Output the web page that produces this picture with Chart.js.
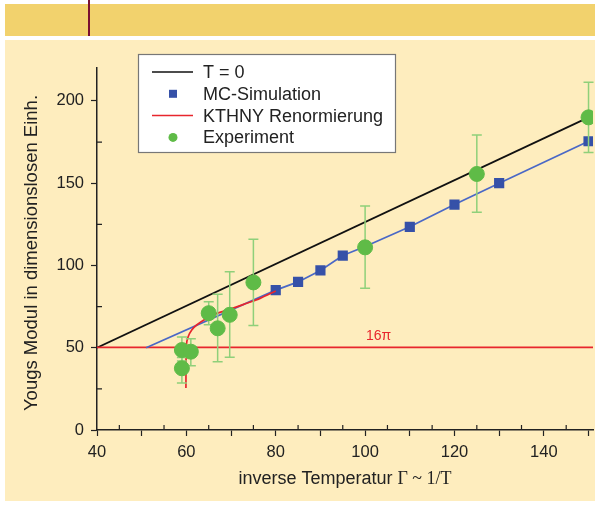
<!DOCTYPE html>
<html lang="de">
<head>
    <meta charset="UTF-8">
    <title>Youngs Modul</title>
    <script src="https://cdn.jsdelivr.net/npm/chart.js@4.4.1/dist/chart.umd.min.js"></script>
    <style type="text/css">
        html, body {
            margin: 0; padding: 0;
            background: #ffffff;
        }
        #band {
            position: absolute; left: 5px; top: 4px; width: 590px; height: 32px;
            background: #f2d26d;
        }
        #mark {
            position: absolute; left: 88px; top: 0; width: 2px; height: 36px;
            background: #7a1031;
        }
        #frame {
            position: absolute; left: 5px; top: 40px; width: 590px; height: 461px;
            background: #feedbe;
        }
        #chart {
            position: absolute; left: 0; top: 0;
        }
    </style>
</head>
<body>
    <div id="band"></div>
    <div id="mark"></div>
    <div id="frame"></div>
    <canvas id="chart" width="595" height="505"></canvas>

    <script>
        // T = 0 Gerade
        const t0X = [40, 150];
        const t0Y = [50, 190];

        // MC-Simulation (erster Punkt ist nur der Anfang der Linie)
        const mcX = [51, 80, 85, 90, 95, 100, 110, 120, 130, 150];
        const mcY = [50, 85, 90, 97, 106, 111.5, 123.5, 137, 150, 175.5];

        // KTHNY Renormierung
        const kthnyX = [59.9, 60, 60.4, 61.2, 62.3, 64.2, 66.8, 69.8, 73.5, 76.5, 80];
        const kthnyY = [25.5, 51.7, 56.7, 60.8, 63.8, 67.3, 70.9, 73.4, 77, 80, 84.5];

        // 16 pi Linie
        const piX = [40, 151];
        const piY = [16 * Math.PI, 16 * Math.PI];
        const piLabel = { x: 103, y: 57, text: '16\u03c0' };

        // Experiment mit Fehlerbalken
        const expX =    [59,   59,   61,   65,   67,   69.7, 75,   100,  125,   150];
        const expY =    [48.6, 37.5, 47.6, 71,   61.8, 70,   89.7, 111,  155.6, 190];
        const expLow =  [42,   28.5, 39,   64,   41.5, 44.2, 63.5, 86.2, 132.3, 168.6];
        const expHigh = [56.5, 44,   55.5, 78,   82.5, 96.2, 116,  136.2, 179.3, 211.3];

        const xTicksLabeled = 20;
        const yTicksLabeled = 50;

        function points(xs, ys) {
            return xs.map((x, i) => ({ x: x, y: ys[i] }));
        }

        const FONT = "'Liberation Sans', Arial, sans-serif";
        const SERIF = "'Liberation Serif', 'Times New Roman', serif";

        // Fehlerbalken unter den Kreisen zeichnen
        const errorBars = {
            id: 'errorBars',
            beforeDatasetDraw(chart, args) {
                if (args.index !== 4) return;
                const ctx = chart.ctx;
                const xs = chart.scales.x, ys = chart.scales.y;
                ctx.save();
                ctx.strokeStyle = '#8fd07a';
                ctx.lineWidth = 1.5;
                for (let i = 0; i < expX.length; i++) {
                    const px = xs.getPixelForValue(expX[i]);
                    const lo = ys.getPixelForValue(expLow[i]);
                    const hi = ys.getPixelForValue(expHigh[i]);
                    ctx.beginPath();
                    ctx.moveTo(px, lo); ctx.lineTo(px, hi);
                    ctx.moveTo(px - 5, lo); ctx.lineTo(px + 5, lo);
                    ctx.moveTo(px - 5, hi); ctx.lineTo(px + 5, hi);
                    ctx.stroke();
                }
                ctx.restore();
            }
        };

        // Innere Nebenstriche, Achsentitel, 16pi, Legende
        const extras = {
            id: 'extras',
            afterDraw(chart) {
                const ctx = chart.ctx;
                const xs = chart.scales.x, ys = chart.scales.y;
                const area = chart.chartArea;
                ctx.save();

                // Nebenstriche nach innen
                ctx.strokeStyle = '#222';
                ctx.lineWidth = 1.2;
                ctx.beginPath();
                for (let v = 45; v <= 150; v += 10) {
                    const px = xs.getPixelForValue(v);
                    ctx.moveTo(px, area.bottom); ctx.lineTo(px, area.bottom - 5);
                }
                for (let v = 25; v <= 200; v += 50) {
                    const py = ys.getPixelForValue(v);
                    ctx.moveTo(area.left, py); ctx.lineTo(area.left + 5, py);
                }
                ctx.stroke();

                // 16 pi Beschriftung
                ctx.fillStyle = '#e8262d';
                ctx.font = '14px ' + FONT;
                ctx.textAlign = 'center';
                ctx.textBaseline = 'middle';
                ctx.fillText(piLabel.text, xs.getPixelForValue(piLabel.x), ys.getPixelForValue(piLabel.y));

                // y-Titel
                ctx.fillStyle = '#222';
                ctx.font = '18.5px ' + FONT;
                ctx.translate(32, 253);
                ctx.rotate(-Math.PI / 2);
                ctx.fillText('Yougs Modul in dimensionslosen Einh.', 0, 0);
                ctx.setTransform(1, 0, 0, 1, 0, 0);

                // x-Titel mit Serifen-Teil
                const part1 = 'inverse Temperatur ';
                const part2 = '\u0393 ~ 1/T';
                ctx.font = '18px ' + FONT;
                const w1 = ctx.measureText(part1).width;
                ctx.font = '18px ' + SERIF;
                const w2 = ctx.measureText(part2).width;
                let sx = 345 - (w1 + w2) / 2;
                ctx.textAlign = 'left';
                ctx.textBaseline = 'alphabetic';
                ctx.font = '18px ' + FONT;
                ctx.fillText(part1, sx, 484);
                ctx.font = '18px ' + SERIF;
                ctx.fillText(part2, sx + w1, 484);

                // Legende
                ctx.fillStyle = '#ffffff';
                ctx.fillRect(138.5, 54.5, 257, 98);
                ctx.strokeStyle = '#777';
                ctx.lineWidth = 1.2;
                ctx.strokeRect(138.5, 54.5, 257, 98);
                const order = [0, 1, 2, 4];
                order.forEach((di, row) => {
                    const ds = chart.data.datasets[di];
                    const y = 72 + row * 21.8;
                    if (ds.showLine && !ds.legendPoint) {
                        ctx.strokeStyle = ds.borderColor;
                        ctx.lineWidth = 1.5;
                        ctx.beginPath();
                        ctx.moveTo(152, y); ctx.lineTo(193, y);
                        ctx.stroke();
                    } else if (ds.pointStyle === 'rect') {
                        ctx.fillStyle = ds.backgroundColor;
                        ctx.fillRect(169, y - 4, 8, 8);
                    } else {
                        ctx.fillStyle = ds.backgroundColor;
                        ctx.beginPath();
                        ctx.arc(173, y, 4.5, 0, Math.PI * 2);
                        ctx.fill();
                    }
                    ctx.fillStyle = '#222';
                    ctx.font = '18px ' + FONT;
                    ctx.textBaseline = 'middle';
                    ctx.fillText(ds.label, 203, y + 1);
                });
                ctx.restore();
            }
        };

        const config = {
            type: 'scatter',
            data: {
                datasets: [
                    {
                        label: 'T = 0',
                        data: points(t0X, t0Y),
                        showLine: true,
                        borderColor: '#111111',
                        borderWidth: 1.7,
                        pointRadius: 0,
                        order: 4
                    },
                    {
                        label: 'MC-Simulation',
                        data: points(mcX, mcY),
                        showLine: true,
                        legendPoint: true,
                        borderColor: '#4a68c6',
                        borderWidth: 1.7,
                        pointStyle: 'rect',
                        pointRadius: ctx => ctx.dataIndex === 0 ? 0 : 6,
                        backgroundColor: '#3651a8',
                        pointBorderColor: '#3651a8',
                        order: 2
                    },
                    {
                        label: 'KTHNY Renormierung',
                        data: points(kthnyX, kthnyY),
                        showLine: true,
                        borderColor: '#e8262d',
                        borderWidth: 1.7,
                        pointRadius: 0,
                        tension: 0.3,
                        order: 1
                    },
                    {
                        label: '16pi',
                        data: points(piX, piY),
                        showLine: true,
                        borderColor: '#e8262d',
                        borderWidth: 1.7,
                        pointRadius: 0,
                        order: 3
                    },
                    {
                        label: 'Experiment',
                        data: points(expX, expY),
                        showLine: false,
                        pointRadius: 7.5,
                        backgroundColor: '#5fbb47',
                        pointBorderColor: '#5fbb47',
                        order: 0
                    }
                ]
            },
            options: {
                responsive: false,
                animation: false,
                // kein Extra-Rand fuer die Punktgroesse, Plotflaeche fest 97..593 / 68..430
                layout: { autoPadding: false, padding: { top: 68, right: 2, left: 0, bottom: 0 } },
                plugins: {
                    legend: { display: false },
                    tooltip: { enabled: false }
                },
                scales: {
                    x: {
                        type: 'linear',
                        min: 40,
                        max: 151,
                        afterFit: s => { s.height = 75; s.paddingRight = 0; s.paddingLeft = 0; },
                        border: { display: true, color: '#222', width: 1.5 },
                        grid: {
                            drawOnChartArea: false,
                            tickLength: 6,
                            tickWidth: 1.2,
                            color: c => (c.tick && c.tick.value % 10 === 0) ? '#222' : 'transparent'
                        },
                        ticks: {
                            stepSize: 5,
                            includeBounds: false,
                            autoSkip: false,
                            maxRotation: 0,
                            padding: 7,
                            color: '#222',
                            font: { family: FONT, size: 16.5 },
                            callback: v => v % xTicksLabeled === 0 ? v : ''
                        }
                    },
                    y: {
                        min: 0,
                        max: 220,
                        afterFit: s => { s.width = 97; },
                        border: { display: true, color: '#222', width: 1.5 },
                        grid: {
                            drawOnChartArea: false,
                            tickLength: 6,
                            tickWidth: 1.2,
                            color: c => (c.tick && c.tick.value % 50 === 0) ? '#222' : 'transparent'
                        },
                        ticks: {
                            stepSize: 25,
                            includeBounds: false,
                            autoSkip: false,
                            padding: 7,
                            color: '#222',
                            font: { family: FONT, size: 16.5 },
                            callback: v => v % yTicksLabeled === 0 ? v : ''
                        }
                    }
                }
            },
            plugins: [errorBars, extras]
        };

        new Chart(document.getElementById('chart'), config);
    </script>
</body>
</html>
